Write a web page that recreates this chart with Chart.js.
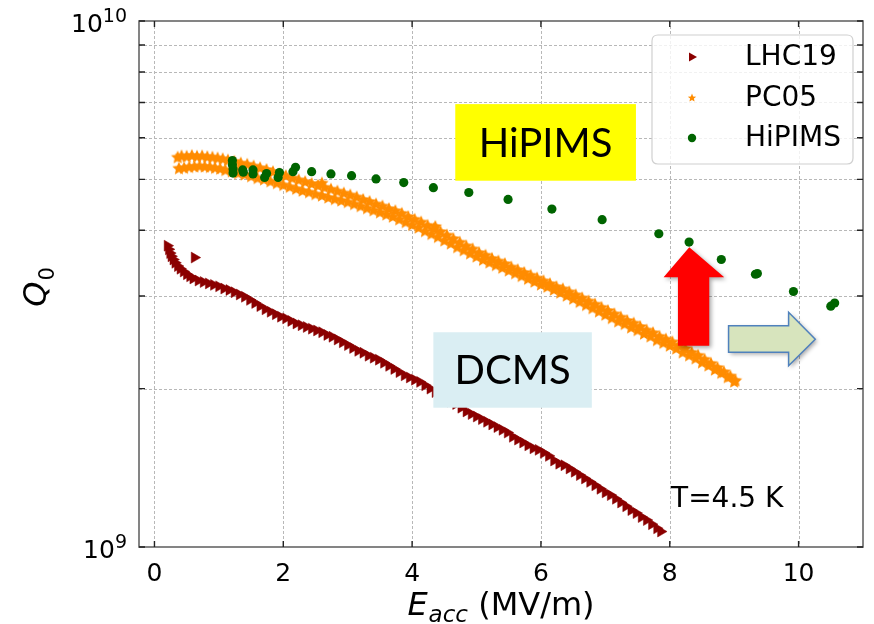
<!DOCTYPE html>
<html>
<head>
<meta charset="utf-8">
<title>Q0 vs Eacc</title>
<script src="https://cdn.jsdelivr.net/npm/chart.js@4/dist/chart.umd.min.js"></script>
<style>
  html, body { margin: 0; padding: 0; background: #ffffff; }
  #wrap { width: 874px; height: 624px; }
</style>
</head>
<body>
<div id="wrap"><canvas id="c" width="874" height="624"></canvas></div>
<script>
// ---- Data: accelerating field E (MV/m) and quality factor Q0 (in units of 1e9) ----
const Q_UNIT = 1e9;

const seriesNames = ['LHC19', 'PC05', 'HiPIMS'];

// LHC19 (DCMS coating)
const lhcE = [0.20,0.22,0.24,0.26,0.29,0.32,0.36,0.40,0.45,0.50,0.55,0.60,0.62,
  0.68,0.76,0.84,0.92,1.00,1.08,1.16,1.24,1.32,1.40,1.48,1.56,1.64,1.72,1.80,1.88,1.96,
  2.04,2.12,2.20,2.28,2.36,2.44,2.52,2.60,2.68,2.76,2.84,2.92,3.00,3.08,3.16,3.24,3.32,
  3.40,3.48,3.56,3.64,3.72,3.80,3.88,3.96,4.04,4.12,4.20,4.28,4.36,4.44,4.52,4.60,4.68,
  4.76,4.84,4.92,5.00,5.08,5.16,5.24,5.32,5.40,5.48,5.56,5.64,5.72,5.80,5.88,5.96,6.04,
  6.12,6.20,6.28,6.36,6.44,6.52,6.60,6.68,6.76,6.84,6.92,7.00,7.08,7.16,7.24,7.32,7.40,
  7.48,7.56,7.64,7.72,7.80,7.86];
const lhcQ = [3.74,3.68,3.62,3.57,3.52,3.47,3.42,3.38,3.34,3.30,3.27,3.24,3.55,
  3.21,3.19,3.17,3.15,3.13,3.10,3.08,3.05,3.02,2.99,2.95,2.91,2.87,2.83,2.80,2.77,2.74,
  2.72,2.69,2.66,2.64,2.62,2.60,2.58,2.56,2.53,2.51,2.48,2.45,2.42,2.39,2.36,2.34,2.31,
  2.29,2.27,2.24,2.21,2.18,2.15,2.12,2.10,2.08,2.06,2.03,2.00,1.97,1.94,1.92,1.89,1.87,
  1.84,1.81,1.79,1.77,1.75,1.73,1.71,1.69,1.67,1.65,1.62,1.60,1.58,1.56,1.54,1.53,1.51,
  1.49,1.46,1.44,1.43,1.41,1.39,1.37,1.35,1.33,1.31,1.29,1.27,1.255,1.235,1.215,1.195,1.175,
  1.16,1.14,1.125,1.105,1.085,1.07];

// PC05, rising-field sweep
const pcUpE = [0.36,0.42,0.50,0.58,0.66,0.74,0.82,0.90,0.98,1.06,1.14,
  1.24,1.34,1.44,1.54,1.64,1.74,1.84,1.94,2.04,2.14,2.24,2.34,2.44,2.54,2.64,2.74,2.84,
  2.94,3.04,3.14,3.24,3.34,3.44,3.54,3.64,3.74,3.84,3.94,4.04,4.14,4.24,4.34,4.44,4.54,
  4.64,4.74,4.84,4.94,5.04,5.14,5.24,5.34,5.44,5.54,5.64,5.74,5.84,5.94,6.04,6.14,6.24,
  6.34,6.44,6.54,6.64,6.74,6.84,6.94,7.04,7.14,7.24,7.34,7.44,7.54,7.64,7.74,7.84,7.94,
  8.04,8.14,8.24,8.34,8.44,8.54,8.64,8.74,8.84,8.94,9.02];
const pcUpQ = [5.50,5.53,5.52,5.54,5.52,5.53,5.51,5.50,5.48,5.46,5.43,
  5.40,5.36,5.33,5.29,5.25,5.21,5.16,5.11,5.07,5.02,4.98,4.94,4.90,4.86,4.82,4.78,4.74,
  4.70,4.66,4.62,4.57,4.53,4.48,4.44,4.39,4.35,4.30,4.24,4.19,4.14,4.08,4.02,3.97,3.91,
  3.85,3.79,3.73,3.68,3.62,3.58,3.53,3.49,3.45,3.40,3.36,3.32,3.28,3.24,3.20,3.16,3.12,
  3.09,3.05,3.01,2.97,2.93,2.89,2.85,2.81,2.77,2.73,2.69,2.66,2.62,2.58,2.55,2.51,2.48,
  2.45,2.41,2.38,2.34,2.31,2.27,2.23,2.19,2.15,2.11,2.07];

// PC05, second sweep
const pcDownE = [0.38,0.46,0.54,0.62,0.70,0.78,0.86,0.94,1.02,1.10,
  1.20,1.30,1.40,1.50,1.60,1.70,1.80,1.90,2.00,2.10,2.20,2.30,2.40,2.50,2.60,2.70,2.80,
  2.90,3.00,3.10,3.20,3.30,3.40,3.50,3.60,3.70,3.80,3.90,4.00,4.10,4.20,4.30,4.40,4.50,
  4.60,4.70,4.80,4.90,5.00,5.10,5.20,5.30,5.40,5.50,5.60,5.70,5.80,5.90,6.00,6.10,6.20,
  6.30,6.40,6.50,6.60,6.70,6.80,6.90,7.00,7.10,7.20,7.30,7.40,7.50,7.60,7.70,7.80,7.90,
  8.00,8.10,8.20,8.30,8.40,8.50,8.60,8.70,8.80,8.90,9.00];
const pcDownQ = [5.24,5.25,5.27,5.28,5.29,5.28,5.27,5.25,5.23,5.20,
  5.17,5.13,5.10,5.06,5.02,4.99,4.95,4.91,4.87,4.83,4.79,4.75,4.72,4.68,4.65,4.61,4.58,
  4.55,4.52,4.48,4.44,4.40,4.36,4.32,4.28,4.24,4.19,4.14,4.09,4.04,3.98,3.93,3.88,3.82,
  3.77,3.71,3.66,3.61,3.56,3.51,3.47,3.43,3.39,3.35,3.31,3.27,3.23,3.19,3.15,3.12,3.08,
  3.04,3.00,2.96,2.92,2.88,2.84,2.80,2.76,2.72,2.68,2.65,2.61,2.58,2.54,2.51,2.47,2.44,
  2.41,2.38,2.34,2.31,2.28,2.24,2.21,2.17,2.14,2.10,2.06];

// PC05, isolated readings
const pcExtraE = [2.60, 4.36];
const pcExtraQ = [4.91, 4.06];

// HiPIMS
const hipE = [1.21,1.21,1.22,1.22,1.37,1.38,1.53,1.53,1.71,1.74,1.92,1.94,2.15,2.19,
  2.44,2.74,3.06,3.44,3.87,4.33,4.88,5.49,6.17,6.95,7.83,8.30,8.80,9.33,9.36,9.92,10.50,10.56];
const hipQ = [5.43,5.33,5.23,5.14,5.21,5.16,5.21,5.12,5.04,5.13,5.04,5.15,5.17,5.27,
  5.17,5.12,5.08,5.01,4.93,4.82,4.72,4.58,4.39,4.19,3.94,3.80,3.52,3.30,3.31,3.06,2.87,2.91];

// Axes
const xTicks = [0, 2, 4, 6, 8, 10];
const xTickLabels = ['0', '2', '4', '6', '8', '10'];
const yMajor = [1e9, 1e10];
const yMajorExp = ['9', '10'];
const yMinor = [2e9, 3e9, 4e9, 5e9, 6e9, 7e9, 8e9, 9e9];

// Notes placed on the plot, in data coordinates
const noteHipims = { text: 'HiPIMS', e0: 4.67, e1: 7.475, q0: 4.97e9, q1: 6.95e9, fill: '#ffff00' };
const noteDcms = { text: 'DCMS', e0: 4.33, e1: 6.79, q0: 1.84e9, q1: 2.56e9, fill: '#daeef3' };
const noteTemp = { text: 'T=4.5 K', e: 8.02, q: 1.193e9 };
const upArrow = { tipE: 8.303, tipQ: 3.714e9, headQ: 3.257e9, headE0: 7.904, headE1: 8.846,
  shaftE0: 8.127, shaftE1: 8.613, baseQ: 2.414e9 };
const rightArrow = { bodyE0: 8.913, bodyE1: 9.845, bodyQ0: 2.346e9, bodyQ1: 2.634e9,
  headQ0: 2.211e9, headQ1: 2.794e9, tipE: 10.259, tipQ: 2.483e9 };

// ---- Helpers ----
const toPts = (E, Q) => E.map((e, i) => ({ x: e, y: Q[i] * Q_UNIT }));
const FONT = "'DejaVu Sans', 'Liberation Sans', sans-serif";

function makeStar(size, r1, r2, color) {
  const c = document.createElement('canvas');
  c.width = size; c.height = size;
  const g = c.getContext('2d');
  const cx = size / 2, cy = size / 2;
  g.beginPath();
  for (let i = 0; i < 10; i++) {
    const r = i % 2 === 0 ? r1 : r2;
    const a = -Math.PI / 2 + i * Math.PI / 5;
    const x = cx + r * Math.cos(a), y = cy + r * Math.sin(a);
    if (i === 0) g.moveTo(x, y); else g.lineTo(x, y);
  }
  g.closePath();
  g.fillStyle = color;
  g.fill();
  return c;
}

const COL_LHC = '#8b0000';
const COL_PC = '#ff8c00';
const COL_HIP = '#006400';
const starBig = makeStar(16, 7.0, 3.3, COL_PC);
const starSmall = makeStar(10, 4.4, 2.0, COL_PC);

function supText(ctx, base, exp, rightX, baseY, supY) {
  ctx.font = '25px ' + FONT;
  const wb = ctx.measureText(base).width;
  ctx.font = '19px ' + FONT;
  const we = ctx.measureText(exp).width;
  const x0 = rightX - wb - we;
  ctx.textAlign = 'left';
  ctx.textBaseline = 'alphabetic';
  ctx.font = '25px ' + FONT;
  ctx.fillText(base, x0, baseY);
  ctx.font = '19px ' + FONT;
  ctx.fillText(exp, x0 + wb, supY);
}

function drawLegendMarker(ctx, idx, x, y) {
  if (idx === 0) {
    ctx.fillStyle = COL_LHC;
    ctx.beginPath();
    ctx.moveTo(x + 5, y);
    ctx.lineTo(x - 3, y - 4.4);
    ctx.lineTo(x - 3, y + 4.4);
    ctx.closePath();
    ctx.fill();
  } else if (idx === 1) {
    ctx.drawImage(starSmall, x - starSmall.width / 2, y - starSmall.height / 2);
  } else {
    ctx.fillStyle = COL_HIP;
    ctx.beginPath();
    ctx.arc(x, y, 4.2, 0, Math.PI * 2);
    ctx.fill();
  }
}

function roundRect(ctx, x, y, w, h, r) {
  ctx.beginPath();
  ctx.moveTo(x + r, y);
  ctx.lineTo(x + w - r, y);
  ctx.quadraticCurveTo(x + w, y, x + w, y + r);
  ctx.lineTo(x + w, y + h - r);
  ctx.quadraticCurveTo(x + w, y + h, x + w - r, y + h);
  ctx.lineTo(x + r, y + h);
  ctx.quadraticCurveTo(x, y + h, x, y + h - r);
  ctx.lineTo(x, y + r);
  ctx.quadraticCurveTo(x, y, x + r, y);
  ctx.closePath();
}

// ---- Decorations: grid, frame with inward ticks, labels, notes, legend ----
const decor = {
  id: 'decor',
  beforeDatasetsDraw(chart) {
    const { ctx, chartArea: a, scales: { x, y } } = chart;
    ctx.save();
    ctx.strokeStyle = '#b8b8b8';
    ctx.lineWidth = 1;
    ctx.setLineDash([3, 2]);
    xTicks.forEach(v => {
      const p = Math.round(x.getPixelForValue(v)) + 0.5;
      ctx.beginPath(); ctx.moveTo(p, a.top); ctx.lineTo(p, a.bottom); ctx.stroke();
    });
    yMinor.forEach(v => {
      const p = Math.round(y.getPixelForValue(v)) + 0.5;
      ctx.beginPath(); ctx.moveTo(a.left, p); ctx.lineTo(a.right, p); ctx.stroke();
    });
    ctx.restore();
  },
  afterDatasetsDraw(chart) {
    const { ctx, scales: { x, y } } = chart;
    ctx.save();
    // text boxes
    [noteHipims, noteDcms].forEach(n => {
      const l = x.getPixelForValue(n.e0), r = x.getPixelForValue(n.e1);
      const t = y.getPixelForValue(n.q1), b = y.getPixelForValue(n.q0);
      ctx.fillStyle = n.fill;
      ctx.fillRect(l, t, r - l, b - t);
      ctx.fillStyle = '#000';
      ctx.font = '40px Lato, "Open Sans", sans-serif';
      ctx.textAlign = 'center';
      ctx.textBaseline = 'alphabetic';
      const cx = (l + r) / 2, cy = (t + b) / 2;
      ctx.fillText(n.text, cx, cy + 14.5);
    });
    // up arrow
    const u = upArrow;
    ctx.save();
    ctx.shadowColor = 'rgba(0,0,0,0.35)';
    ctx.shadowBlur = 4;
    ctx.shadowOffsetX = 2;
    ctx.shadowOffsetY = 2;
    ctx.fillStyle = '#ff0000';
    ctx.beginPath();
    ctx.moveTo(x.getPixelForValue(u.tipE), y.getPixelForValue(u.tipQ));
    ctx.lineTo(x.getPixelForValue(u.headE1), y.getPixelForValue(u.headQ));
    ctx.lineTo(x.getPixelForValue(u.shaftE1), y.getPixelForValue(u.headQ));
    ctx.lineTo(x.getPixelForValue(u.shaftE1), y.getPixelForValue(u.baseQ));
    ctx.lineTo(x.getPixelForValue(u.shaftE0), y.getPixelForValue(u.baseQ));
    ctx.lineTo(x.getPixelForValue(u.shaftE0), y.getPixelForValue(u.headQ));
    ctx.lineTo(x.getPixelForValue(u.headE0), y.getPixelForValue(u.headQ));
    ctx.closePath();
    ctx.fill();
    // right arrow
    const g = rightArrow;
    ctx.fillStyle = '#d7e4bd';
    ctx.beginPath();
    ctx.moveTo(x.getPixelForValue(g.bodyE0), y.getPixelForValue(g.bodyQ1));
    ctx.lineTo(x.getPixelForValue(g.bodyE1), y.getPixelForValue(g.bodyQ1));
    ctx.lineTo(x.getPixelForValue(g.bodyE1), y.getPixelForValue(g.headQ1));
    ctx.lineTo(x.getPixelForValue(g.tipE), y.getPixelForValue(g.tipQ));
    ctx.lineTo(x.getPixelForValue(g.bodyE1), y.getPixelForValue(g.headQ0));
    ctx.lineTo(x.getPixelForValue(g.bodyE1), y.getPixelForValue(g.bodyQ0));
    ctx.lineTo(x.getPixelForValue(g.bodyE0), y.getPixelForValue(g.bodyQ0));
    ctx.closePath();
    ctx.fill();
    ctx.shadowColor = 'transparent';
    ctx.strokeStyle = '#4f81bd';
    ctx.lineWidth = 1.5;
    ctx.stroke();
    ctx.restore();
    // temperature note
    ctx.fillStyle = '#000';
    ctx.font = '28px ' + FONT;
    ctx.textAlign = 'left';
    ctx.textBaseline = 'alphabetic';
    ctx.fillText(noteTemp.text, x.getPixelForValue(noteTemp.e), y.getPixelForValue(noteTemp.q));
    ctx.restore();
  },
  afterDraw(chart) {
    const { ctx, chartArea: a, scales: { x, y } } = chart;
    ctx.save();
    // frame
    ctx.strokeStyle = '#666';
    ctx.lineWidth = 1.6;
    ctx.strokeRect(a.left, a.top, a.right - a.left, a.bottom - a.top);
    // inward ticks
    ctx.strokeStyle = '#222';
    ctx.lineWidth = 1.4;
    const tl = 6;
    xTicks.forEach(v => {
      const p = x.getPixelForValue(v);
      ctx.beginPath();
      ctx.moveTo(p, a.bottom); ctx.lineTo(p, a.bottom - tl);
      ctx.moveTo(p, a.top); ctx.lineTo(p, a.top + tl);
      ctx.stroke();
    });
    yMinor.concat(yMajor).forEach(v => {
      const p = y.getPixelForValue(v);
      ctx.beginPath();
      ctx.moveTo(a.left, p); ctx.lineTo(a.left + tl, p);
      ctx.moveTo(a.right, p); ctx.lineTo(a.right - tl, p);
      ctx.stroke();
    });
    // x tick labels
    ctx.fillStyle = '#000';
    ctx.font = '25px ' + FONT;
    ctx.textAlign = 'center';
    ctx.textBaseline = 'alphabetic';
    xTicks.forEach((v, i) => {
      ctx.fillText(xTickLabels[i], x.getPixelForValue(v), a.bottom + 34);
    });
    // y tick labels (powers of ten)
    yMajor.forEach((v, i) => {
      const p = y.getPixelForValue(v);
      supText(ctx, '10', yMajorExp[i], a.left - 12, p + 10.7, p + 0.7);
    });
    // x axis title: E_acc (MV/m)
    {
      const fMain = '32px ' + FONT;
      const fIt = 'italic 32px ' + FONT;
      const fSubIt = 'italic 23px ' + FONT;
      ctx.font = fIt; const wE = ctx.measureText('E').width;
      ctx.font = fSubIt; const wSub = ctx.measureText('acc').width;
      ctx.font = fMain; const wRest = ctx.measureText(' (MV/m)').width;
      const total = wE + 1 + wSub + wRest;
      let x0 = (a.left + a.right) / 2 - total / 2;
      const base = a.bottom + 68;
      ctx.textAlign = 'left';
      ctx.font = fIt; ctx.fillText('E', x0, base); x0 += wE + 1;
      ctx.font = fSubIt; ctx.fillText('acc', x0, base + 6.5); x0 += wSub;
      ctx.font = fMain; ctx.fillText(' (MV/m)', x0, base);
    }
    // y axis title: Q_0
    {
      ctx.save();
      const fQ = 'italic 32px ' + FONT;
      const fSub = '21px ' + FONT;
      ctx.font = fQ; const wQ = ctx.measureText('Q').width;
      ctx.font = fSub; const w0 = ctx.measureText('0').width;
      const total = wQ + 1 + w0;
      ctx.translate(46, (a.top + a.bottom) / 2 + 3 + total / 2);
      ctx.rotate(-Math.PI / 2);
      ctx.textAlign = 'left';
      ctx.font = fQ; ctx.fillText('Q', 0, 0);
      ctx.font = fSub; ctx.fillText('0', wQ + 1, 8);
      ctx.restore();
    }
    // legend
    {
      const w = 201, h = 129;
      const lx = a.right - 10 - w, ly = a.top + 14;
      roundRect(ctx, lx, ly, w, h, 6);
      ctx.fillStyle = 'rgba(255,255,255,0.8)';
      ctx.fill();
      ctx.strokeStyle = '#d0d0d0';
      ctx.lineWidth = 1.2;
      ctx.stroke();
      const rows = [22, 63, 103];
      chart.data.datasets.forEach((ds, i) => {
        drawLegendMarker(ctx, i, lx + 40, ly + rows[i]);
        ctx.fillStyle = '#000';
        ctx.font = '28px ' + FONT;
        ctx.textAlign = 'left';
        ctx.textBaseline = 'middle';
        ctx.fillText(ds.label, lx + 93, ly + rows[i] + 1);
      });
    }
    ctx.restore();
  }
};

// ---- Chart ----
const ctx = document.getElementById('c').getContext('2d');
new Chart(ctx, {
  type: 'scatter',
  data: {
    datasets: [
      {
        label: seriesNames[0],
        data: toPts(lhcE, lhcQ),
        pointStyle: 'triangle',
        rotation: 90,
        radius: 6.3,
        backgroundColor: COL_LHC,
        borderColor: COL_LHC,
        borderWidth: 0.5,
        order: 2
      },
      {
        label: seriesNames[1],
        data: toPts(pcUpE, pcUpQ).concat(toPts(pcDownE, pcDownQ), toPts(pcExtraE, pcExtraQ)),
        pointStyle: starBig,
        radius: 6,
        backgroundColor: COL_PC,
        borderColor: COL_PC,
        order: 1
      },
      {
        label: seriesNames[2],
        data: toPts(hipE, hipQ),
        pointStyle: 'circle',
        radius: 4.6,
        backgroundColor: COL_HIP,
        borderColor: COL_HIP,
        borderWidth: 0,
        order: 0
      }
    ]
  },
  options: {
    responsive: false,
    animation: false,
    devicePixelRatio: 1,
    events: [],
    layout: { padding: { left: 0, top: 21, right: 11, bottom: 0 } },
    plugins: { legend: { display: false }, tooltip: { enabled: false } },
    scales: {
      x: {
        type: 'linear',
        min: -0.24,
        max: 11.0,
        grid: { display: false },
        border: { display: false },
        ticks: { display: false },
        afterBuildTicks(s) { s.ticks = xTicks.map(v => ({ value: v })); },
        afterFit(s) { s.height = 77; }
      },
      y: {
        type: 'logarithmic',
        min: 1e9,
        max: 1e10,
        grid: { display: false },
        border: { display: false },
        ticks: { display: false },
        afterFit(s) { s.width = 139; }
      }
    }
  },
  plugins: [decor]
});
</script>
</body>
</html>
